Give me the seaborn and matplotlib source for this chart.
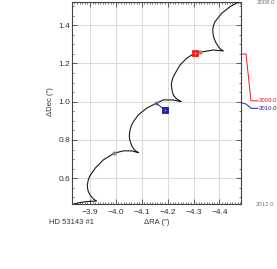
import matplotlib
matplotlib.use("Agg")
import matplotlib.pyplot as plt
import seaborn as sns
import pandas as pd
from matplotlib.lines import Line2D
from matplotlib.ticker import MultipleLocator

sns.set_style("ticks")
plt.rcParams['font.family'] = ['Liberation Sans', 'DejaVu Sans']

# predicted track (parallax + proper motion), 2008.0 -> 2012.0
track_ra = [-4.487, -4.477, -4.460, -4.441, -4.409, -4.383, -4.377, -4.374, -4.375, -4.379,
            -4.386, -4.396, -4.405, -4.415,
            -4.376, -4.338, -4.319, -4.299, -4.274, -4.248, -4.229, -4.221, -4.216, -4.214,
            -4.216, -4.218, -4.222, -4.231, -4.241, -4.252,
            -4.222, -4.183, -4.155, -4.119, -4.087, -4.068, -4.060, -4.055, -4.053, -4.052,
            -4.054, -4.058, -4.063, -4.070, -4.078, -4.087,
            -4.061, -4.029, -3.994, -3.952, -3.920, -3.898, -3.893, -3.890, -3.891, -3.894,
            -3.900, -3.907, -3.916, -3.926,
            -3.888, -3.862, -3.836, -3.804]
track_dec = [1.531, 1.522, 1.511, 1.496, 1.462, 1.418, 1.398, 1.374, 1.354, 1.331,
             1.309, 1.287, 1.274, 1.265,
             1.270, 1.261, 1.258, 1.249, 1.227, 1.192, 1.148, 1.127, 1.104, 1.087,
             1.070, 1.052, 1.035, 1.019, 1.009, 1.000,
             1.009, 1.009, 0.991, 0.966, 0.931, 0.896, 0.875, 0.852, 0.835, 0.817,
             0.800, 0.783, 0.766, 0.751, 0.741, 0.734,
             0.743, 0.743, 0.731, 0.696, 0.652, 0.608, 0.587, 0.565, 0.547, 0.530,
             0.514, 0.501, 0.489, 0.481,
             0.478, 0.473, 0.464, 0.456]

# predicted positions at yearly epochs
pred_ra = [-4.325, -4.156, -3.994]
pred_dec = [1.262, 0.992, 0.731]

# measurements
obs_epoch = ["2009.0", "2010.0"]
obs_ra = [-4.304, -4.190]
obs_dec = [1.252, 0.956]
obs_color = ["#ee1c1c", "#1c1caa"]

xticks = [-3.9, -4.0, -4.1, -4.2, -4.3, -4.4]
yticks = [0.6, 0.8, 1.0, 1.2, 1.4]

W, H = 277, 269
fig = plt.figure(figsize=(W / 100, H / 100), dpi=100)
ax = fig.add_axes([72.3 / W, 1 - 203.7 / H, (240.7 - 72.3) / W, (203.7 - 2.3) / H])

df = pd.DataFrame({"ra": track_ra, "dec": track_dec})
sns.lineplot(data=df, x="ra", y="dec", sort=False, estimator=None, color="#1a1a1a",
             lw=0.8, ax=ax, zorder=3)

sns.scatterplot(x=pred_ra, y=pred_dec, color="#8a8a8a", s=9, marker="o",
                edgecolor="#8a8a8a", linewidth=0, ax=ax, zorder=4)

# residual line for 2010
ax.plot([pred_ra[1], obs_ra[1]], [pred_dec[1], obs_dec[1]], color=obs_color[1], lw=0.7, zorder=4)

for r, d, c in zip(obs_ra, obs_dec, obs_color):
    ax.plot([r], [d], marker="s", ms=3.8, mfc=c, mec=c, mew=0.6, zorder=5)
    ax.plot([r], [d], marker="+", ms=3.0, mec="#ffb0b0" if c == obs_color[0] else "#8080ff",
            mew=0.4, zorder=6)

ax.set_xlim(-3.832, -4.482)
ax.set_ylim(0.467, 1.519)
ax.set_xticks(xticks)
ax.set_yticks(yticks)
ax.set_xticklabels([f"{t:.1f}".replace("-", "\u2212") for t in xticks])
ax.set_yticklabels([f"{t:.1f}" for t in yticks])
ax.xaxis.set_minor_locator(MultipleLocator(0.01))
ax.yaxis.set_minor_locator(MultipleLocator(0.05))
ax.grid(True, which="major", color="#dcdcdc", lw=0.8, zorder=0)
ax.tick_params(which="both", direction="in", top=True, right=True, colors="#444444",
               labelcolor="#333333", labelsize=6)
ax.tick_params(which="major", length=3.5, width=0.6)
ax.tick_params(which="minor", length=1.6, width=0.5)
ax.tick_params(axis="x", pad=3.5)
ax.tick_params(axis="y", pad=1.5)
for s in ax.spines.values():
    s.set_color("#444444")
    s.set_linewidth(0.8)
ax.set_xlabel("")
ax.set_ylabel("")

fig.text(50 / W, 1 - 102 / H, "\u0394Dec (\u2033)", rotation=90, ha="center", va="center",
         fontsize=5.5, color="#333333")
fig.text(156.5 / W, 1 - 222 / H, "\u0394RA (\u2033)", ha="center", va="center",
         fontsize=5.5, color="#333333")
fig.text(49.3 / W, 1 - 222 / H, "HD 53143 #1", ha="left", va="center",
         fontsize=5.5, color="#333333")

fig.text(256.5 / W, 1 - 3 / H, "2008.0", ha="left", va="center", fontsize=4.3, color="#777777")
fig.text(256 / W, 1 - 204 / H, "2012.0", ha="left", va="center", fontsize=4.3, color="#777777")

# label connectors
red_px = [(241.5, 54), (246, 54), (251, 100.8), (258, 100.8)]
blue_px = [(241.5, 102.7), (246, 104), (251, 108.3), (258, 108.3)]
for pts, c, lab, ly in [(red_px, obs_color[0], obs_epoch[0], 100.8),
                        (blue_px, obs_color[1], obs_epoch[1], 108.3)]:
    xs = [p[0] / W for p in pts]
    ys = [1 - p[1] / H for p in pts]
    fig.add_artist(Line2D(xs, ys, transform=fig.transFigure, color=c, lw=0.7))
    fig.text(258.5 / W, 1 - ly / H, lab, ha="left", va="center", fontsize=4.3, color=c)

fig.savefig("out.png", dpi=100)
